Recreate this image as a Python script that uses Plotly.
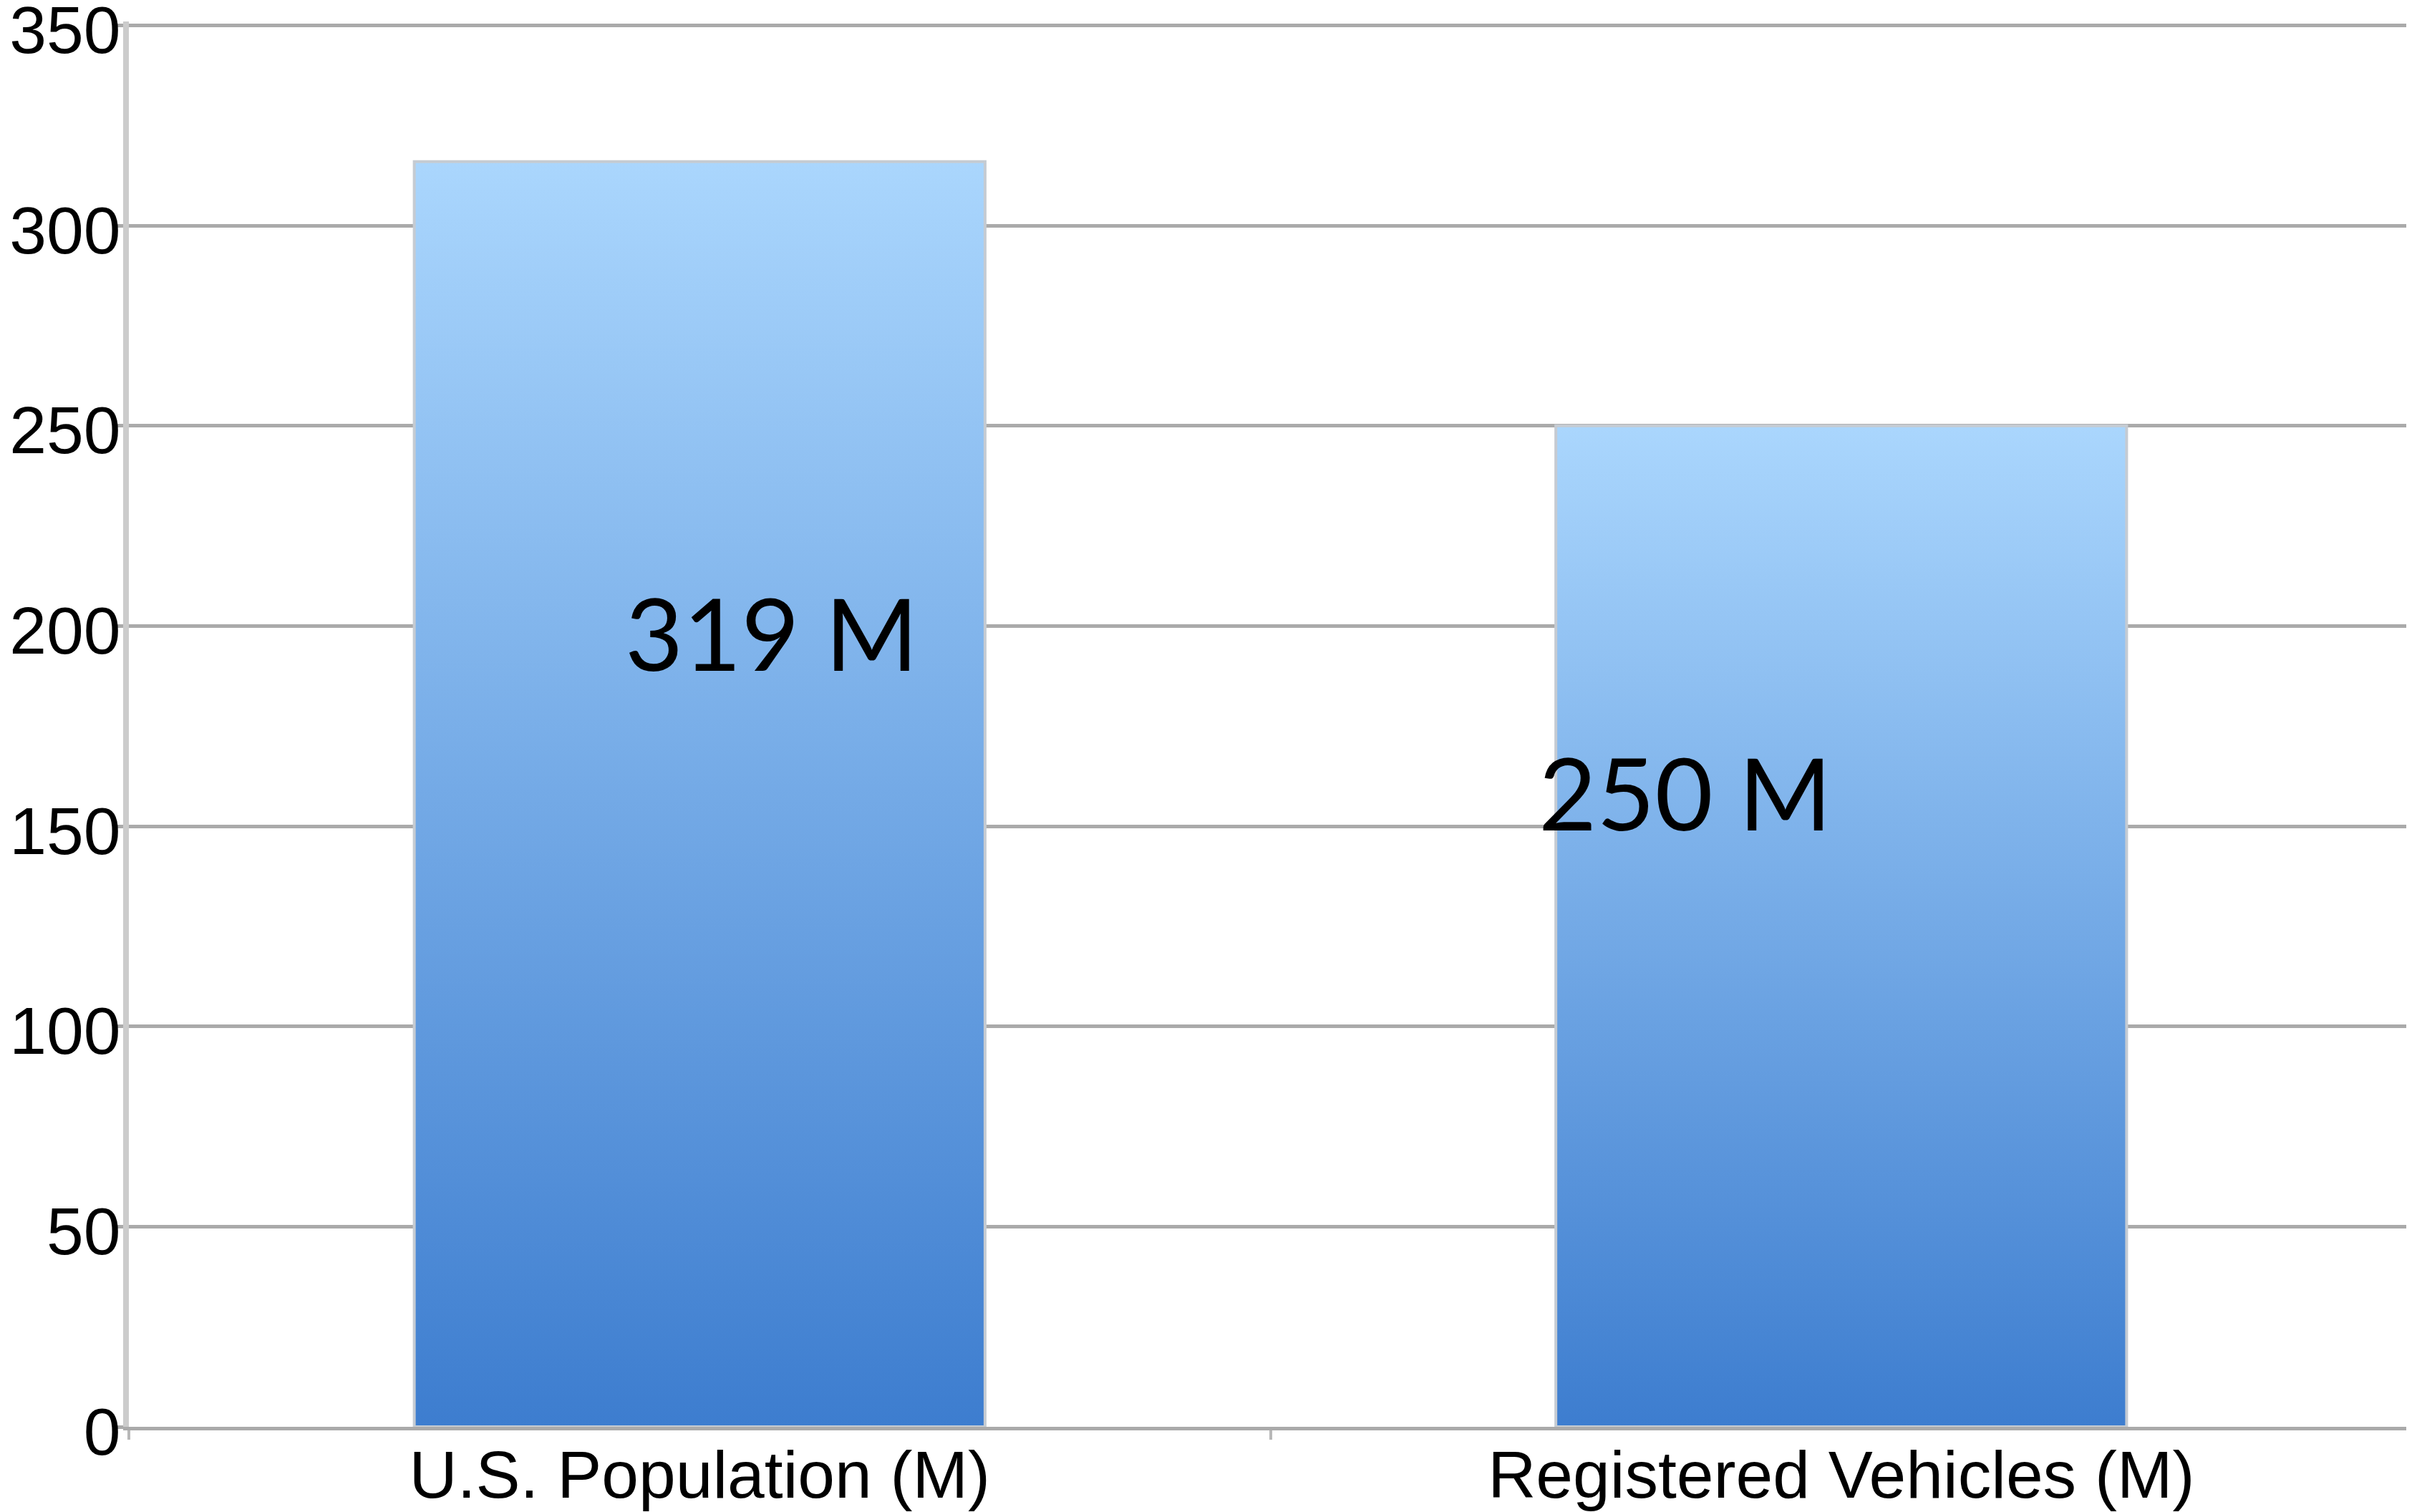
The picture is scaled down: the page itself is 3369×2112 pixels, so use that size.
import plotly.graph_objects as go

# ---- data ----
categories = ["U.S. Population (M)", "Registered Vehicles (M)"]
values = [316, 250]
value_labels = ["319 M", "250 M"]
y_ticks = [0, 50, 100, 150, 200, 250, 300, 350]

# ---- style ----
BAR_HALF = 0.25
GRAD = [[0.0, "#3d7dcf"], [1.0, "#aad6fd"]]
LABEL_DX = [0.063, -0.137]
LABEL_Y = [198.5, 158.6]

fig = go.Figure()
for i, (cat, v) in enumerate(zip(categories, values)):
    fig.add_trace(go.Scatter(
        x=[i - BAR_HALF, i - BAR_HALF, i + BAR_HALF, i + BAR_HALF, i - BAR_HALF],
        y=[0, v, v, 0, 0],
        mode="lines",
        fill="toself",
        fillgradient=dict(type="vertical", colorscale=GRAD, start=0, stop=v),
        line=dict(color="#c5cbd2", width=4),
        name=cat,
        hoverinfo="skip",
        showlegend=False,
    ))

for i, txt in enumerate(value_labels):
    fig.add_annotation(
        x=i + LABEL_DX[i], y=LABEL_Y[i], xref="x", yref="y",
        text=txt, showarrow=False,
        font=dict(family="Lato", size=140, color="#000000"),
        xanchor="center", yanchor="middle",
    )

# page body has an 8px default margin, so the figure is 8px smaller
fig.update_layout(
    width=3361, height=2104,
    margin=dict(l=172, r=0, t=22, b=119, pad=0),
    paper_bgcolor="white", plot_bgcolor="white",
    showlegend=False,
)

fig.update_xaxes(
    automargin=False,
    range=[-0.5, 1.5],
    tickvals=list(range(len(categories))),
    ticktext=categories,
    ticks="",
    ticklabelstandoff=-18,
    ticklabeloverflow="allow",
    showgrid=False, zeroline=False,
    showline=True, linecolor="#aaaaaa", linewidth=5,
    tickfont=dict(family="Liberation Sans", size=93, color="#000000"),
    minor=dict(tickvals=[-0.5, 0.5, 1.5], ticks="outside", ticklen=13,
               tickcolor="#b8b8b8", tickwidth=4, showgrid=False),
)

fig.update_yaxes(
    automargin=False,
    range=[0, 351],
    tickvals=y_ticks,
    ticks="outside", ticklen=11, tickcolor="#aaaaaa", tickwidth=5,
    ticklabelstandoff=-26,
    ticklabelshift=6,
    ticklabeloverflow="allow",
    showgrid=True, gridcolor="#aaaaaa", gridwidth=5,
    zeroline=False,
    showline=True, linecolor="#cccccc", linewidth=8,
    tickfont=dict(family="Liberation Sans", size=93, color="#000000"),
)

fig.write_html("out.html")
